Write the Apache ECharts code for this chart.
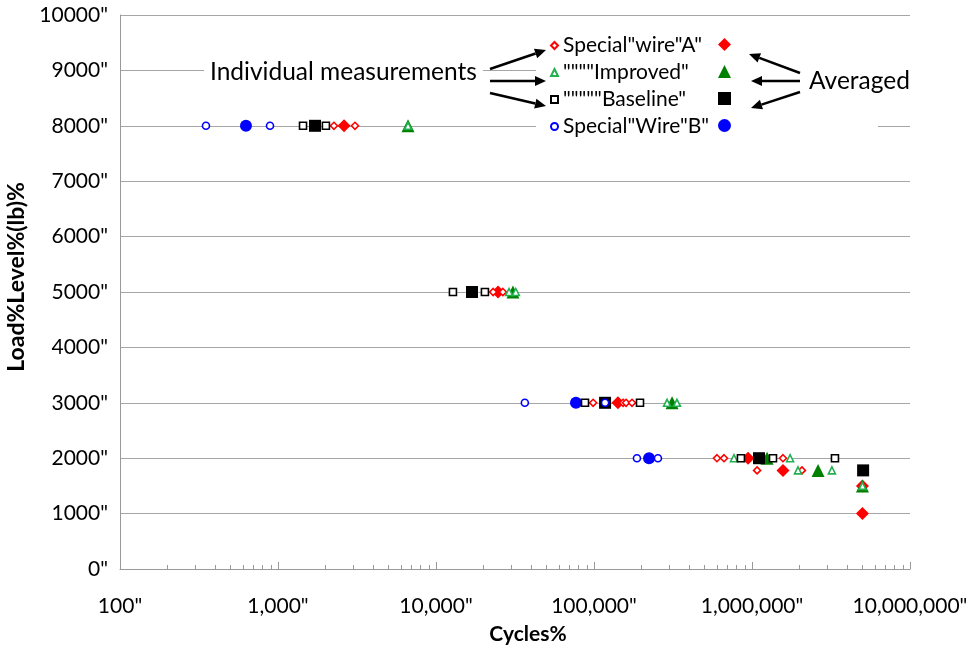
<!DOCTYPE html>
<html>
<head>
<meta charset="utf-8">
<script src="https://cdn.jsdelivr.net/npm/echarts@6/dist/echarts.min.js"></script>
<style>
  html, body { margin: 0; padding: 0; background: #fff; }
  #chart { width: 966px; height: 647px; }
</style>
</head>
<body>
<div id="chart"></div>
<script>
// Fatigue test results: cycles to failure at each load level (lb)

// Series names as shown in the key
const seriesNames = ['Special"wire"A"', '""""Improved"', '"""""Baseline"', 'Special"Wire"B"'];

// Individual measurements, [cycles, load]
const wireAIndividual = [
  [2260, 8000], [3070, 8000],
  [23000, 5000], [26500, 5000],
  [98700, 3000], [152800, 3000], [159600, 3000], [174000, 3000],
  [600000, 2000], [665000, 2000], [1571000, 2000],
  [1077000, 1780], [2070000, 1780],
  [5000000, 1500]
];
const improvedIndividual = [
  [6650, 8000],
  [29000, 5000], [32000, 5000],
  [290000, 3000], [335000, 3000],
  [769000, 2000], [1741000, 2000],
  [1955000, 1780], [3205000, 1780],
  [5000000, 1500]
];
const baselineIndividual = [
  [1440, 8000], [2010, 8000],
  [12800, 5000], [20400, 5000],
  [87700, 3000], [195500, 3000],
  [851000, 2000], [1358000, 2000], [3350000, 2000]
];
const wireBIndividual = [
  [350, 8000], [890, 8000],
  [36500, 3000], [117500, 3000],
  [187000, 2000], [254000, 2000]
];

// Averaged values, [cycles, load]
const wireAAverage = [
  [2620, 8000], [24700, 5000], [141800, 3000], [944000, 2000],
  [1571000, 1780], [5000000, 1500], [5000000, 1000]
];
const improvedAverage = [
  [6650, 8000], [30700, 5000], [312000, 3000], [1245000, 2000],
  [2620000, 1780], [5000000, 1500]
];
const baselineAverage = [
  [1715, 8000], [16900, 5000], [117500, 3000], [1107000, 2000], [5050000, 1780]
];
const wireBAverage = [
  [627, 8000], [76900, 3000], [223000, 2000]
];

// Axis ticks
const cycleMin = 100;
const cycleMax = 10000000;
const loadTicks = [0, 1000, 2000, 3000, 4000, 5000, 6000, 7000, 8000, 9000, 10000];
const minorCycleTicks = [];
for (let d = 100; d < cycleMax; d *= 10) {
  for (let k = 2; k <= 9; k++) minorCycleTicks.push(d * k);
}

const FONT = 'Lato, "Open Sans", sans-serif';
const avgNames = seriesNames.map(n => n + ' avg');

const colors = {
  red: '#ff0000',
  green: '#22b050',
  greenDark: '#008000',
  black: '#000000',
  blue: '#0000ff'
};

function openSeries(name, data, symbol, color) {
  return {
    name, type: 'scatter', data, symbol, symbolSize: 7, z: 4,
    itemStyle: { color: '#fff', borderColor: color, borderWidth: 1.6, opacity: 1 }
  };
}
function filledSeries(name, data, symbol, color, size) {
  return {
    name, type: 'scatter', data, symbol, symbolSize: size, z: 3,
    itemStyle: { color, opacity: 1 }
  };
}

// Annotation arrows
function arrow(x1, y1, x2, y2) {
  const ang = Math.atan2(y2 - y1, x2 - x1);
  const len = 11, half = 5;
  const bx = x2 - len * Math.cos(ang), by = y2 - len * Math.sin(ang);
  const px = -Math.sin(ang) * half, py = Math.cos(ang) * half;
  return [
    { type: 'line', z: 60, shape: { x1, y1, x2: bx, y2: by }, style: { stroke: '#000', lineWidth: 2.5 } },
    { type: 'polygon', z: 60, shape: { points: [[x2, y2], [bx + px, by + py], [bx - px, by - py]] }, style: { fill: '#000' } }
  ];
}

const graphics = [
  { type: 'rect', z: 3, shape: { x: 536, y: 30, width: 342, height: 110 }, style: { fill: '#fff' } },
  {
    type: 'text', z: 50, x: 204, y: 72,
    style: { text: 'Individual measurements', font: '24.5px ' + FONT, fill: '#000',
             textVerticalAlign: 'middle', backgroundColor: '#fff', padding: [4, 6] }
  },
  {
    type: 'text', z: 50, x: 805, y: 81,
    style: { text: 'Averaged', font: '24.5px ' + FONT, fill: '#000',
             textVerticalAlign: 'middle', backgroundColor: '#fff', padding: [4, 4] }
  },
  ...arrow(490, 69, 546, 50),
  ...arrow(490, 81, 546, 81),
  ...arrow(490, 93, 546, 106),
  ...arrow(800, 73, 749, 54),
  ...arrow(800, 81, 751, 81),
  ...arrow(800, 92, 751, 108)
];

const chart = echarts.init(document.getElementById('chart'), null, { renderer: 'canvas' });
chart.setOption({
  backgroundColor: '#fff',
  animation: false,
  textStyle: { fontFamily: FONT },
  grid: { left: 120, right: 56, top: 15, bottom: 78, outerBoundsMode: 'none', containLabel: false },
  legend: [
    {
      data: seriesNames, orient: 'vertical', left: 545, top: 30, z: 10,
      itemWidth: 7, itemHeight: 7, itemGap: 6, selectedMode: false,
      textStyle: { fontFamily: FONT, fontSize: 21, color: '#000' }
    },
    {
      data: avgNames, orient: 'vertical', left: 713, top: 33, z: 10,
      itemWidth: 13, itemHeight: 13, itemGap: 14, selectedMode: false,
      formatter: () => '',
      textStyle: { fontFamily: FONT, fontSize: 21, color: '#000' }
    }
  ],
  xAxis: [
    {
      type: 'log', logBase: 10, min: cycleMin, max: cycleMax,
      name: 'Cycles%', nameLocation: 'middle', nameGap: 55,
      nameTextStyle: { fontFamily: FONT, fontSize: 21, fontWeight: 'bold', color: '#000', padding: [0, 0, 0, 26] },
      axisLine: { show: true, lineStyle: { color: '#999', width: 1 } },
      axisTick: { show: true, inside: true, length: 7, lineStyle: { color: '#999' } },
      axisLabel: {
        margin: 27, fontFamily: FONT, fontSize: 21, color: '#000',
        formatter: v => Number(v).toLocaleString('en-US') + '"'
      },
      splitLine: { show: false }
    },
    {
      type: 'log', logBase: 10, min: cycleMin, max: cycleMax, position: 'bottom',
      axisLine: { show: false },
      axisTick: { show: true, inside: true, length: 4, customValues: minorCycleTicks, lineStyle: { color: '#999' } },
      axisLabel: { show: false },
      splitLine: { show: false }
    }
  ],
  yAxis: {
    type: 'value', min: loadTicks[0], max: loadTicks[loadTicks.length - 1], interval: 1000,
    name: 'Load%Level%(lb)%', nameLocation: 'middle', nameGap: 72,
    nameTextStyle: { fontFamily: FONT, fontSize: 23, fontWeight: 'bold', color: '#000', padding: [0, 0, 0, 30] },
    axisLine: { show: true, lineStyle: { color: '#999', width: 1 } },
    axisTick: { show: false },
    axisLabel: {
      margin: 12, fontFamily: FONT, fontSize: 21, color: '#000',
      formatter: v => v + '"'
    },
    splitLine: { show: true, lineStyle: { color: '#a6a6a6', width: 1 } }
  },
  series: [
    filledSeries(avgNames[0], wireAAverage, 'diamond', colors.red, 13),
    filledSeries(avgNames[1], improvedAverage, 'triangle', colors.greenDark, 13),
    filledSeries(avgNames[2], baselineAverage, 'rect', colors.black, 12),
    filledSeries(avgNames[3], wireBAverage, 'circle', colors.blue, 12),
    openSeries(seriesNames[0], wireAIndividual, 'diamond', colors.red),
    openSeries(seriesNames[1], improvedIndividual, 'triangle', colors.green),
    openSeries(seriesNames[2], baselineIndividual, 'rect', colors.black),
    openSeries(seriesNames[3], wireBIndividual, 'circle', colors.blue)
  ],
  graphic: graphics
});
</script>
</body>
</html>
